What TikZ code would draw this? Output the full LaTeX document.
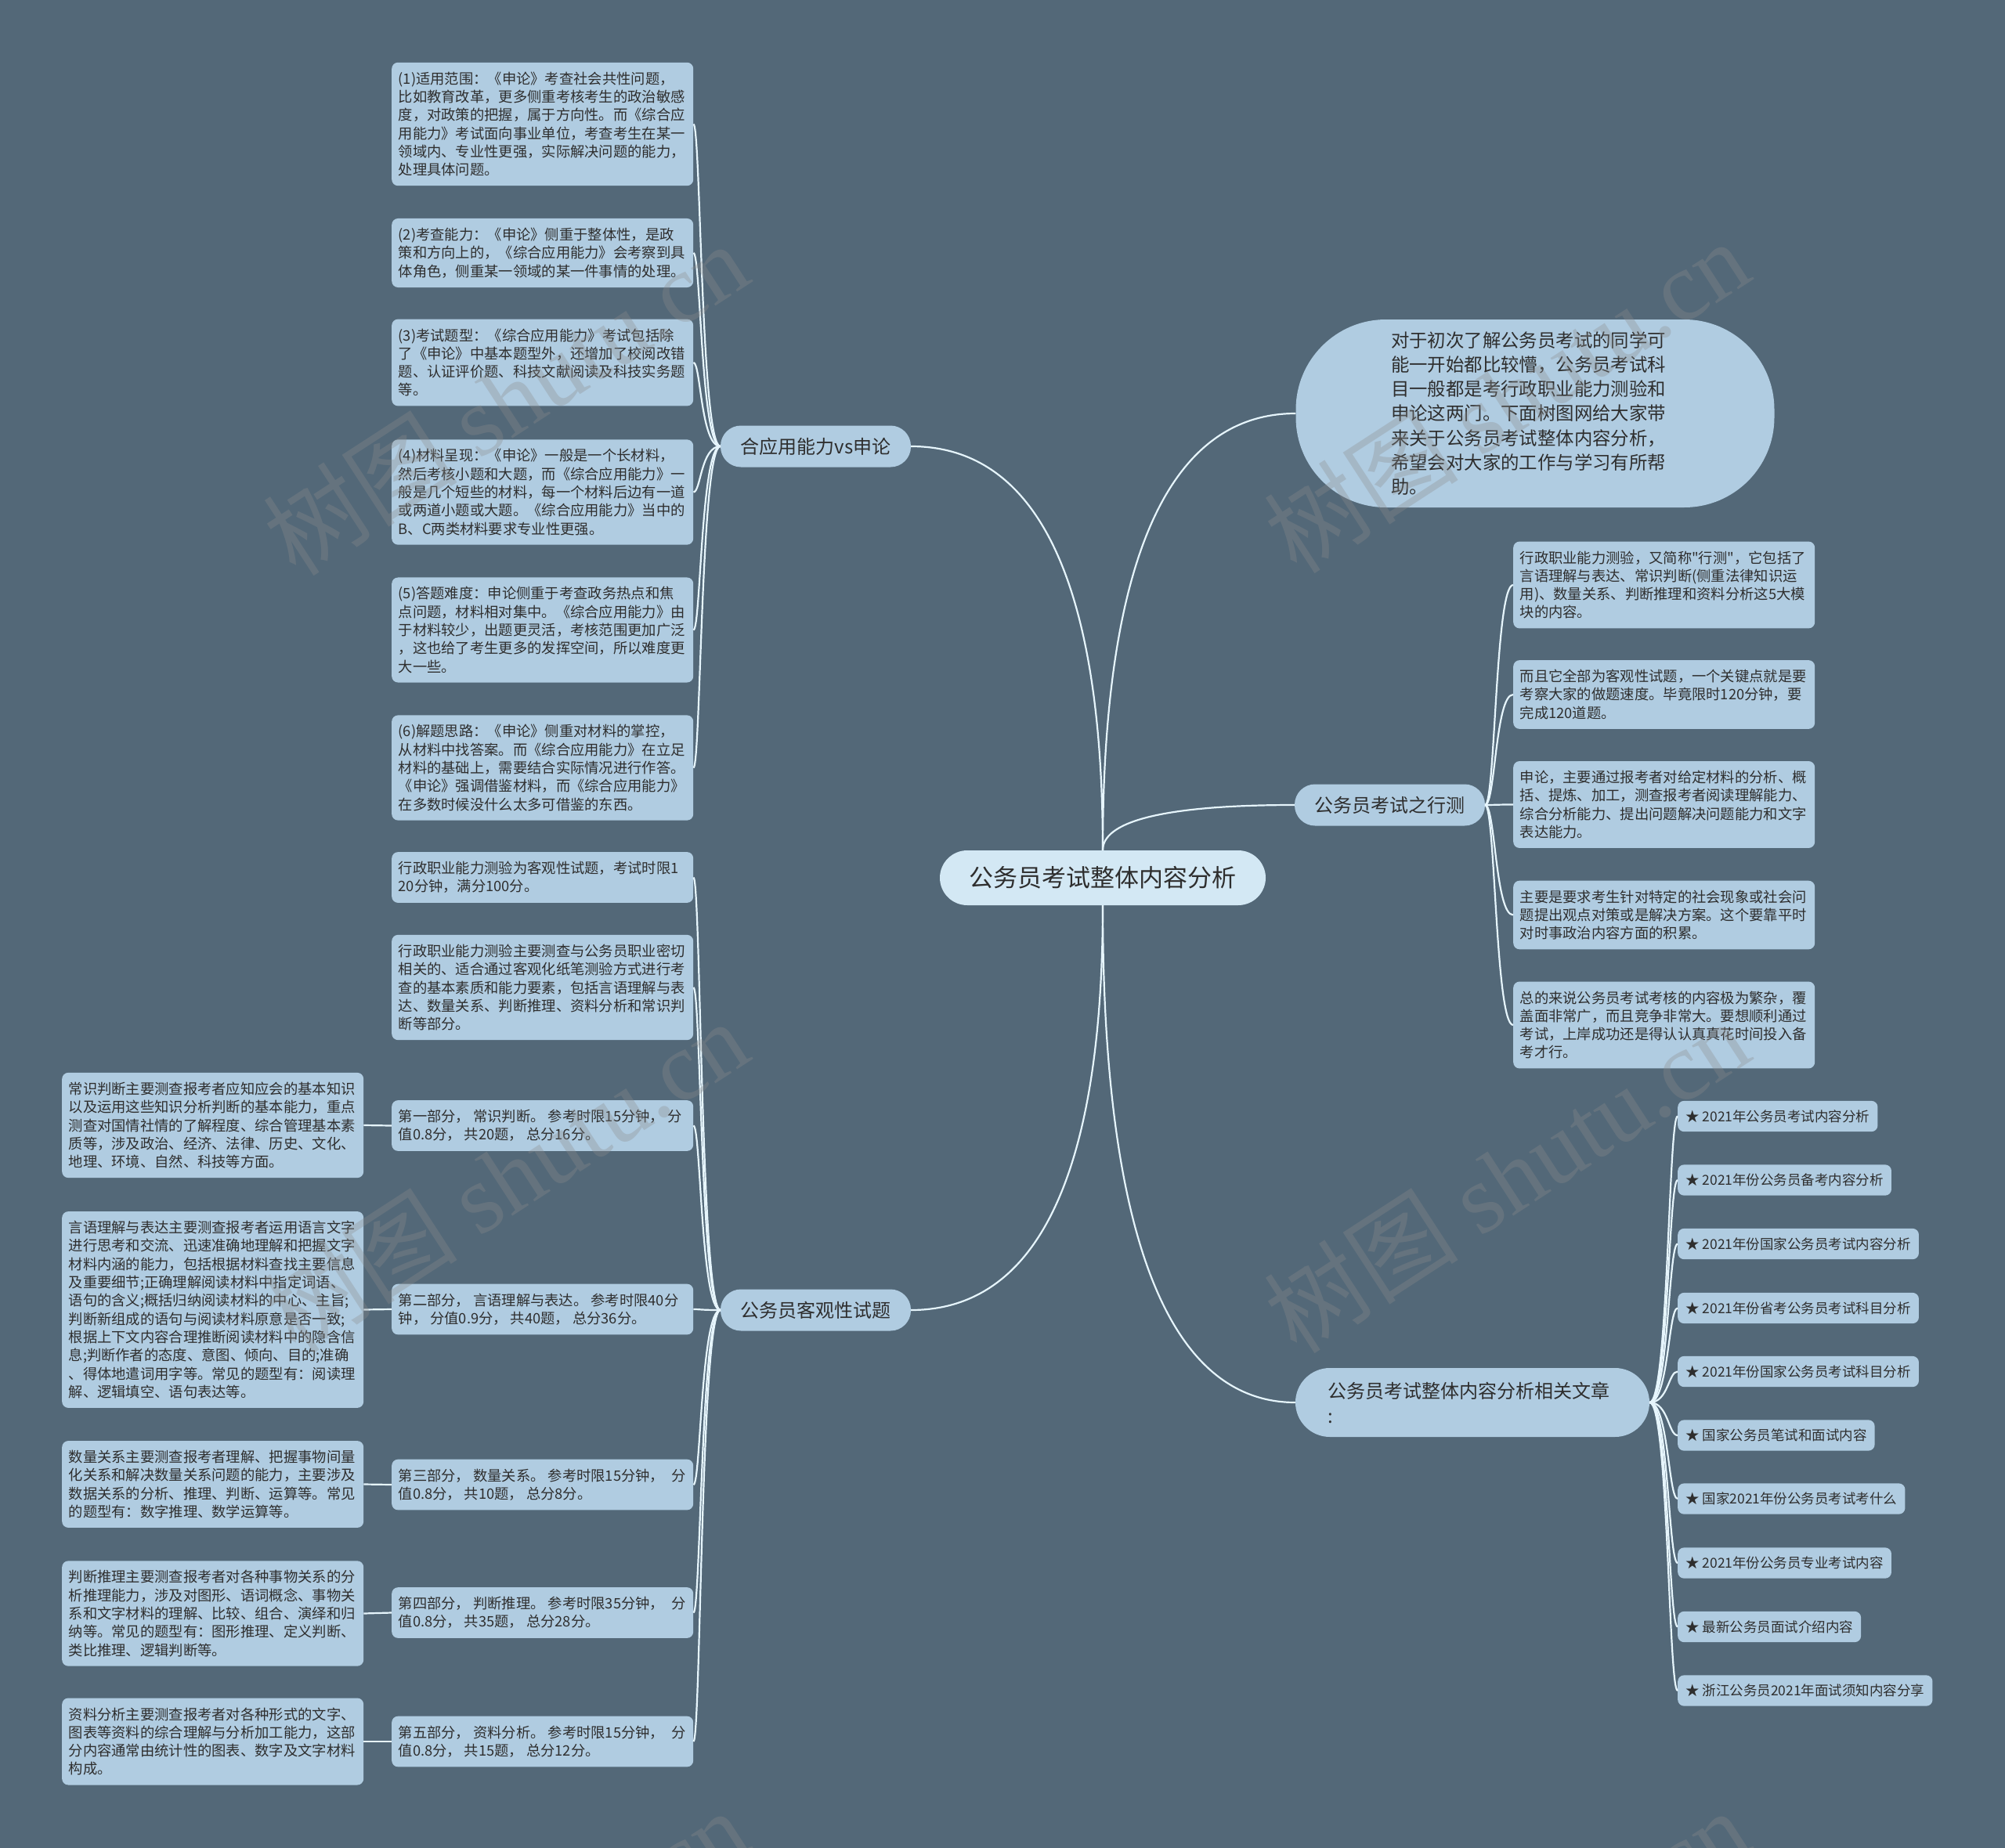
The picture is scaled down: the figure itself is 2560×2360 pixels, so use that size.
\documentclass[tikz,border=0pt]{standalone}
\usepackage{fontspec}
\setmainfont{Noto Sans CJK SC}[Ligatures=TeXOff]
\newfontfamily\wmlat{Liberation Serif}
\usetikzlibrary{calc}
\definecolor{bgc}{HTML}{536878}
\definecolor{leafc}{HTML}{B0CCE1}
\definecolor{centc}{HTML}{D3E8F4}
\definecolor{linec}{HTML}{E6F5FC}
\definecolor{txtc}{HTML}{2E2E2E}
\definecolor{wmc}{HTML}{8C8C8C}
\tikzset{
 leaf/.style={rectangle, rounded corners=8pt, fill=leafc, text=txtc, font=\fontsize{18.3}{23.3}\selectfont, align=left, text width=368pt, inner xsep=8.5pt, inner ysep=12pt, anchor=west},
 staritem/.style={rectangle, rounded corners=8pt, fill=leafc, text=txtc, font=\fontsize{17.5}{22}\selectfont, inner xsep=10pt, inner ysep=11.5pt, anchor=west},
 lvone/.style={rectangle, rounded corners=26pt, fill=leafc, text=txtc, font=\fontsize{24}{32}\selectfont, minimum width=243pt, minimum height=53pt, inner sep=0pt},
 conn/.style={draw=linec, line width=2.2pt},
 wm/.style={text=wmc, text opacity=0.32, rotate=33, font=\fontsize{125}{125}\selectfont},
}
\newcommand\mmcurve[2]{\draw[conn] (#1) .. controls ($(#1)!0.6!(#1|-#2)$) and ($(#2)!0.72!(#2-|#1)$) .. (#2);}
\newcommand\brk[3]{\draw[conn] (#1) .. controls ($(#1)+(#3,0)$) and ($(#1|-#2)+(#3,0)$) .. (#2);}
\newcommand\gp{\kern4pt}
\newcommand\gw{\kern9pt}
\begin{document}
\begin{tikzpicture}[x=1pt,y=-1pt]
\fill[bgc] (0,0) rectangle (2560,2360);
\useasboundingbox (0,0) rectangle (2560,2360);

% central
\node[rectangle, rounded corners=35pt, fill=centc, text=txtc, font=\fontsize{31}{36}\selectfont, minimum width=416pt, minimum height=70pt, inner sep=0pt] (c) at (1408,1121) {公务员考试整体内容分析};

% level one
\node[lvone] (n1) at (1041.5,570) {合应用能力vs申论};
\node[lvone] (n2) at (1041.5,1673) {公务员客观性试题};
\node[lvone] (n3) at (1774.5,1028) {公务员考试之行测};
\node[rectangle, rounded corners=44pt, fill=leafc, text=txtc, font=\fontsize{24}{32}\selectfont, minimum width=452pt, minimum height=88pt, inner sep=0pt, text width=370pt, align=left] (n4) at (1880,1791) {公务员考试整体内容分析相关文章\\:};
\node[rectangle, rounded corners=115pt, fill=leafc, text=txtc, font=\fontsize{23.4}{31.3}\selectfont, minimum width=611pt, minimum height=240pt, inner sep=0pt, text width=368pt, align=left] (intro) at (1960,528) {对于初次了解公务员考试的同学可\\能一开始都比较懵，公务员考试科\\目一般都是考行政职业能力测验和\\申论这两门。下面树图网给大家带\\来关于公务员考试整体内容分析，\\希望会对大家的工作与学习有所帮\\助。};

% branch 1 leaves
\node[leaf] (l1) at (500,158.5) {(1)适用范围：《申论》考查社会共性问题，\\比如教育改革，更多侧重考核考生的政治敏感\\度，对政策的把握，属于方向性。而《综合应\\用能力》考试面向事业单位，考查考生在某一\\领域内、专业性更强，实际解决问题的能力，\\处理具体问题。};
\node[leaf] (l2) at (500,323) {(2)考查能力：《申论》侧重于整体性，是政\\策和方向上的，《综合应用能力》会考察到具\\体角色，侧重某一领域的某一件事情的处理。};
\node[leaf] (l3) at (500,463) {(3)考试题型：《综合应用能力》考试包括除\\了《申论》中基本题型外，还增加了校阅改错\\题、认证评价题、科技文献阅读及科技实务题\\等。};
\node[leaf] (l4) at (500,628.5) {(4)材料呈现：《申论》一般是一个长材料，\\然后考核小题和大题，而《综合应用能力》一\\般是几个短些的材料，每一个材料后边有一道\\或两道小题或大题。《综合应用能力》当中的\\B、C两类材料要求专业性更强。};
\node[leaf] (l5) at (500,804.5) {(5)答题难度：申论侧重于考查政务热点和焦\\点问题，材料相对集中。《综合应用能力》由\\于材料较少，出题更灵活，考核范围更加广泛\\，这也给了考生更多的发挥空间，所以难度更\\大一些。};
\node[leaf] (l6) at (500,980.5) {(6)解题思路：《申论》侧重对材料的掌控，\\从材料中找答案。而《综合应用能力》在立足\\材料的基础上，需要结合实际情况进行作答。\\《申论》强调借鉴材料，而《综合应用能力》\\在多数时候没什么太多可借鉴的东西。};

% branch 2 leaves
\node[leaf] (a1) at (500,1120.5) {行政职业能力测验为客观性试题，考试时限1\\20分钟，满分100分。};
\node[leaf] (a2) at (500,1261) {行政职业能力测验主要测查与公务员职业密切\\相关的、适合通过客观化纸笔测验方式进行考\\查的基本素质和能力要素，包括言语理解与表\\达、数量关系、判断推理、资料分析和常识判\\断等部分。};
\node[leaf] (p1) at (500,1437.5) {第一部分，\gp{}常识判断。\gp{}参考时限15分钟，\gp{}分\\值0.8分，\gp{}共20题，\gp{}总分16分。};
\node[leaf] (p2) at (500,1672) {第二部分，\gp{}言语理解与表达。\gp{}参考时限40分\\钟，\gp{}分值0.9分，\gp{}共40题，\gp{}总分36分。};
\node[leaf] (p3) at (500,1896) {第三部分，\gp{}数量关系。\gp{}参考时限15分钟，\gw{}分\\值0.8分，\gp{}共10题，\gp{}总分8分。};
\node[leaf] (p4) at (500,2059.5) {第四部分，\gp{}判断推理。\gp{}参考时限35分钟，\gw{}分\\值0.8分，\gp{}共35题，\gp{}总分28分。};
\node[leaf] (p5) at (500,2224) {第五部分，\gp{}资料分析。\gp{}参考时限15分钟，\gw{}分\\值0.8分，\gp{}共15题，\gp{}总分12分。};

\node[leaf] (k1) at (79,1437) {常识判断主要测查报考者应知应会的基本知识\\以及运用这些知识分析判断的基本能力，重点\\测查对国情社情的了解程度、综合管理基本素\\质等，涉及政治、经济、法律、历史、文化、\\地理、环境、自然、科技等方面。};
\node[leaf] (k2) at (79,1672.5) {言语理解与表达主要测查报考者运用语言文字\\进行思考和交流、迅速准确地理解和把握文字\\材料内涵的能力，包括根据材料查找主要信息\\及重要细节;正确理解阅读材料中指定词语、\\语句的含义;概括归纳阅读材料的中心、主旨;\\判断新组成的语句与阅读材料原意是否一致;\\根据上下文内容合理推断阅读材料中的隐含信\\息;判断作者的态度、意图、倾向、目的;准确\\、得体地遣词用字等。常见的题型有：阅读理\\解、逻辑填空、语句表达等。};
\node[leaf] (k3) at (79,1895.5) {数量关系主要测查报考者理解、把握事物间量\\化关系和解决数量关系问题的能力，主要涉及\\数据关系的分析、推理、判断、运算等。常见\\的题型有：数字推理、数学运算等。};
\node[leaf] (k4) at (79,2060.5) {判断推理主要测查报考者对各种事物关系的分\\析推理能力，涉及对图形、语词概念、事物关\\系和文字材料的理解、比较、组合、演绎和归\\纳等。常见的题型有：图形推理、定义判断、\\类比推理、逻辑判断等。};
\node[leaf] (k5) at (79,2224) {资料分析主要测查报考者对各种形式的文字、\\图表等资料的综合理解与分析加工能力，这部\\分内容通常由统计性的图表、数字及文字材料\\构成。};

% branch 3 leaves
\node[leaf] (r1) at (1932,747) {行政职业能力测验，又简称"行测"，它包括了\\言语理解与表达、常识判断(侧重法律知识运\\用)、数量关系、判断推理和资料分析这5大模\\块的内容。};
\node[leaf] (r2) at (1932,887) {而且它全部为客观性试题，一个关键点就是要\\考察大家的做题速度。毕竟限时120分钟，要\\完成120道题。};
\node[leaf] (r3) at (1932,1027.5) {申论，主要通过报考者对给定材料的分析、概\\括、提炼、加工，测查报考者阅读理解能力、\\综合分析能力、提出问题解决问题能力和文字\\表达能力。};
\node[leaf] (r4) at (1932,1168.5) {主要是要求考生针对特定的社会现象或社会问\\题提出观点对策或是解决方案。这个要靠平时\\对时事政治内容方面的积累。};
\node[leaf] (r5) at (1932,1309) {总的来说公务员考试考核的内容极为繁杂，覆\\盖面非常广，而且竞争非常大。要想顺利通过\\考试，上岸成功还是得认认真真花时间投入备\\考才行。};

% branch 4 items
\node[staritem] (s1) at (2142,1425.5) {★ 2021年公务员考试内容分析};
\node[staritem] (s2) at (2142,1507) {★ 2021年份公务员备考内容分析};
\node[staritem] (s3) at (2142,1588.5) {★ 2021年份国家公务员考试内容分析};
\node[staritem] (s4) at (2142,1670.5) {★ 2021年份省考公务员考试科目分析};
\node[staritem] (s5) at (2142,1751.5) {★ 2021年份国家公务员考试科目分析};
\node[staritem] (s6) at (2142,1833) {★ 国家公务员笔试和面试内容};
\node[staritem] (s7) at (2142,1914) {★ 国家2021年份公务员考试考什么};
\node[staritem] (s8) at (2142,1996) {★ 2021年份公务员专业考试内容};
\node[staritem] (s9) at (2142,2077.5) {★ 最新公务员面试介绍内容};
\node[staritem] (s10) at (2142,2159) {★ 浙江公务员2021年面试须知内容分享};

% connectors from centre
\mmcurve{c.north}{n1.east}
\mmcurve{c.north}{intro.west}
\mmcurve{c.north}{n3.west}
\mmcurve{c.south}{n2.east}
\mmcurve{c.south}{n4.west}

% brackets
\foreach \t in {l1,l2,l3,l4,l5,l6} {\brk{n1.west}{\t.east}{-25}}
\foreach \t in {a1,a2,p1,p2,p3,p4,p5} {\brk{n2.west}{\t.east}{-25}}
\foreach \t in {r1,r2,r3,r4,r5} {\brk{n3.east}{\t.west}{13}}
\foreach \t in {s1,s2,s3,s4,s5,s6,s7,s8,s9,s10} {\brk{n4.east}{\t.west}{24}}
\foreach \a/\b in {p1/k1,p2/k2,p3/k3,p4/k4,p5/k5} {\draw[conn] (\a.west) -- (\b.east);}

% watermarks
\node[wm] (w1) at (645,509) {树图 {\wmlat shutu.cn}};
\node[wm] (w2) at (1923,506) {树图 {\wmlat shutu.cn}};
\node[wm] (w3) at (645,1502) {树图 {\wmlat shutu.cn}};
\node[wm] (w4) at (1923,1502) {树图 {\wmlat shutu.cn}};
\node[wm] (w5) at (645,2510) {树图 {\wmlat shutu.cn}};
\node[wm] (w6) at (1923,2510) {树图 {\wmlat shutu.cn}};
\end{tikzpicture}
\end{document}
